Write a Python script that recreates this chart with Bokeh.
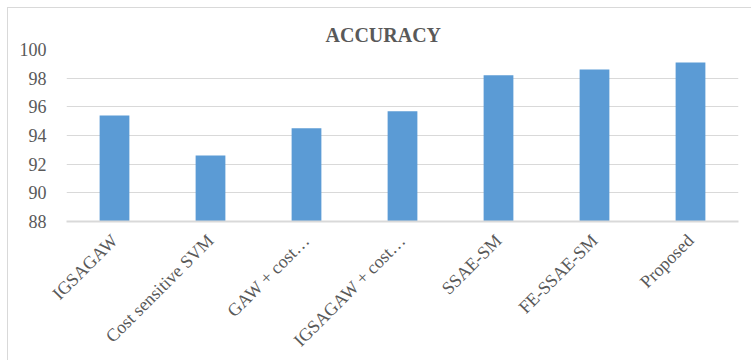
import math
from bokeh.plotting import figure
from bokeh.models import Range1d, FactorRange, FixedTicker
from bokeh.embed import file_html
from bokeh.resources import INLINE

# Classification accuracy (%) per method
methods = ["IGSAGAW", "Cost sensitive SVM", "GAW + cost\u2026", "IGSAGAW + cost\u2026",
           "SSAE-SM", "FE-SSAE-SM", "Proposed"]
accuracy = [95.4, 92.6, 94.5, 95.7, 98.2, 98.6, 99.1]
y_ticks = [88, 90, 92, 94, 96, 98, 100]

SERIF = "Liberation Serif"
TEXT_COLOR = "#595959"
GRID_COLOR = "#d9d9d9"

p = figure(width=744, height=353, x_range=FactorRange(*methods),
           y_range=Range1d(88, 100), output_backend="svg", toolbar_location=None,
           min_border_left=58, min_border_right=14, min_border_top=41,
           min_border_bottom=140)
p.styles = {"margin-left": "7px", "margin-top": "7px",
            "border-left": "1px solid #d9d9d9", "border-top": "1px solid #d9d9d9"}
p.outline_line_color = None
p.background_fill_color = "white"
p.border_fill_color = "white"

# title placed over the middle of the whole chart area rather than the plot frame
p.title.text = "ACCURACY"
p.title.align = "left"
p.title.offset = 259
p.title.text_font = SERIF
p.title.text_font_size = "20px"
p.title.text_font_style = "bold"
p.title.text_color = TEXT_COLOR
p.title.standoff = 8

p.vbar(x=methods, top=accuracy, bottom=88, width=0.31, color="#5b9bd5", line_color=None)

# value axis
p.yaxis.ticker = FixedTicker(ticks=y_ticks)
p.yaxis.axis_line_color = None
p.yaxis.major_tick_line_color = None
p.yaxis.minor_tick_line_color = None
p.yaxis.major_label_text_font = SERIF
p.yaxis.major_label_text_font_size = "18px"
p.yaxis.major_label_text_color = TEXT_COLOR
p.yaxis.major_label_standoff = 14

# category axis
p.xaxis.axis_line_color = GRID_COLOR
p.xaxis.axis_line_width = 2
p.xaxis.major_tick_line_color = None
p.xaxis.minor_tick_line_color = None
p.xaxis.major_label_orientation = math.pi / 4
p.xaxis.major_label_text_font = SERIF
p.xaxis.major_label_text_font_size = "18px"
p.xaxis.major_label_text_color = TEXT_COLOR
p.xaxis.major_label_standoff = 10

p.xgrid.grid_line_color = None
p.ygrid.grid_line_color = GRID_COLOR
p.ygrid.grid_line_width = 1

open("out.html", "w").write(file_html(p, INLINE))
